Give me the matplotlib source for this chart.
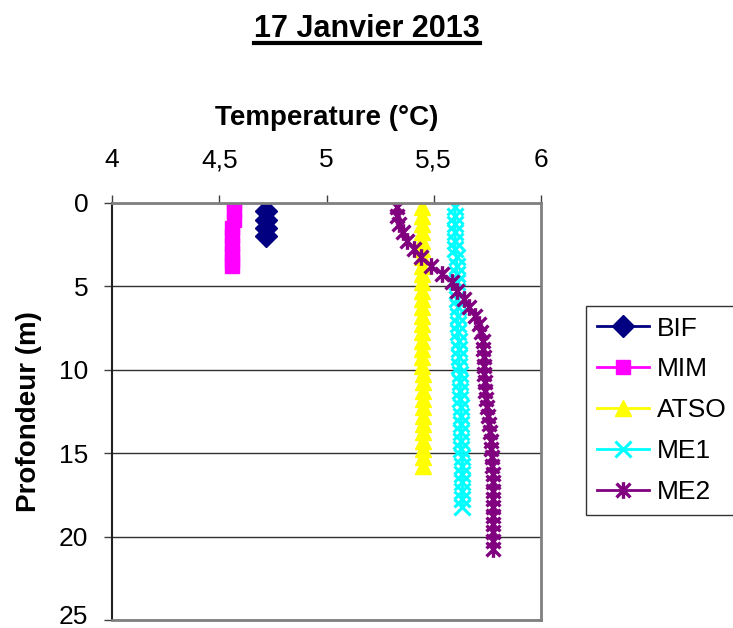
import numpy as np
import matplotlib
matplotlib.use('Agg')
import matplotlib.pyplot as plt
import matplotlib.transforms as mtransforms
from matplotlib.path import Path
from matplotlib.lines import Line2D

plt.rcParams['font.family'] = ['Liberation Sans', 'DejaVu Sans']

# Data (depth in m, temperature in degC)
bif_depth = [0.5, 1.0, 1.5, 2.0]
bif_temp = [4.718, 4.718, 4.718, 4.718]

mim_depth = [0.0, 0.5, 1.0, 1.5, 2.0, 2.5, 3.0, 3.5, 3.8]
mim_temp = [4.569, 4.569, 4.567, 4.558, 4.558, 4.558, 4.558, 4.558, 4.558]

atso_depth = [0.25, 0.75, 1.25, 1.75, 2.25, 2.75, 3.25, 3.75, 4.25, 4.75,
              5.25, 5.75, 6.25, 6.75, 7.25, 7.75, 8.25, 8.75, 9.25, 9.75,
              10.25, 10.75, 11.25, 11.75, 12.25, 12.75, 13.25, 13.75, 14.25, 14.75,
              15.25, 15.75]
atso_temp = [5.443, 5.443, 5.443, 5.443, 5.443, 5.443, 5.443, 5.443, 5.443, 5.443,
             5.447, 5.447, 5.447, 5.447, 5.447, 5.447, 5.447, 5.447, 5.447, 5.447,
             5.451, 5.451, 5.451, 5.451, 5.451, 5.451, 5.451, 5.451, 5.451, 5.451,
             5.451, 5.451]

me1_depth = [0.25, 0.75, 1.25, 1.75, 2.25, 2.75, 3.25, 3.75, 4.25, 4.75,
             5.25, 5.75, 6.25, 6.75, 7.25, 7.75, 8.25, 8.75, 9.25, 9.75,
             10.25, 10.75, 11.25, 11.75, 12.25, 12.75, 13.25, 13.75, 14.25, 14.75,
             15.25, 15.75, 16.25, 16.75, 17.25, 17.75, 18.25]
me1_temp = [5.600, 5.600, 5.600, 5.600, 5.600, 5.600, 5.607, 5.607, 5.607, 5.607,
            5.607, 5.607, 5.612, 5.612, 5.612, 5.612, 5.618, 5.618, 5.618, 5.618,
            5.624, 5.624, 5.624, 5.624, 5.628, 5.628, 5.628, 5.628, 5.628, 5.628,
            5.634, 5.634, 5.634, 5.634, 5.634, 5.634, 5.634]

me2_depth = [0.25, 0.75, 1.25, 1.75, 2.25, 2.75, 3.25, 3.75, 4.25, 4.75,
             5.25, 5.75, 6.25, 6.75, 7.25, 7.75, 8.25, 8.75, 9.25, 9.75,
             10.25, 10.75, 11.25, 11.75, 12.25, 12.75, 13.25, 13.75, 14.25, 14.75,
             15.25, 15.75, 16.25, 16.75, 17.25, 17.75, 18.25, 18.75, 19.25, 19.75,
             20.25, 20.75]
me2_temp = [5.327, 5.330, 5.340, 5.355, 5.375, 5.410, 5.440, 5.485, 5.540, 5.585,
            5.610, 5.640, 5.665, 5.690, 5.710, 5.720, 5.728, 5.730, 5.732, 5.733,
            5.735, 5.738, 5.740, 5.745, 5.748, 5.752, 5.758, 5.762, 5.765, 5.768,
            5.770, 5.772, 5.774, 5.775, 5.776, 5.776, 5.776, 5.776, 5.776, 5.776,
            5.776, 5.776]

x_ticks = [4, 4.5, 5, 5.5, 6]
x_ticklabels = ['4', '4,5', '5', '5,5', '6']
y_ticks = [0, 5, 10, 15, 20, 25]

# asterisk-like marker (x with a vertical bar), like Excel's star
star = Path([(-1, -1), (1, 1), (-1, 1), (1, -1), (0, -1.2), (0, 1.2)],
            [Path.MOVETO, Path.LINETO, Path.MOVETO, Path.LINETO, Path.MOVETO, Path.LINETO])

fig = plt.figure(figsize=(7.33, 6.28), dpi=100)
ax = fig.add_axes([112 / 733, 1 - 620 / 628, 429 / 733, 417 / 628])

ax.plot(bif_temp, bif_depth, color='#000080', marker='D', ms=11, lw=2, label='BIF')
ax.plot(mim_temp, mim_depth, color='#FF00FF', marker='s', ms=10, lw=2, label='MIM')
ax.plot(atso_temp, atso_depth, color='#FFFF00', marker='^', ms=12, lw=2, label='ATSO')
ax.plot(me1_temp, me1_depth, color='#00FFFF', marker='x', ms=11, mew=2.2, lw=2, label='ME1')
ax.plot(me2_temp, me2_depth, color='#800080', marker=star, ms=12, mew=2.4, lw=2, label='ME2')

ax.set_xlim(4, 6)
ax.set_ylim(25, 0)
ax.xaxis.tick_top()
ax.xaxis.set_label_position('top')
ax.set_xticks(x_ticks)
ax.set_xticklabels(x_ticklabels)
ax.set_yticks(y_ticks)
ax.tick_params(axis='x', direction='out', length=6, width=1, pad=16, labelsize=19, color='#404040')
ax.tick_params(axis='y', direction='out', length=6, width=1, pad=11, labelsize=19, color='#404040')

# the bottom label sits a little higher so it stays inside the picture
last = ax.get_yticklabels()[-1]
last.set_transform(last.get_transform() + mtransforms.ScaledTranslation(0, 4 / 72, fig.dpi_scale_trans))

ax.set_xlabel('Temperature (°C)', fontsize=20, fontweight='bold', labelpad=17)
ax.set_ylabel('Profondeur (m)', fontsize=20, fontweight='bold', labelpad=12)

ax.grid(axis='y', color='#303030', lw=1)
ax.set_axisbelow(True)
ax.spines['left'].set_color('#202020')
ax.spines['left'].set_linewidth(1.5)
for s in ['top', 'right', 'bottom']:
    ax.spines[s].set_color('#808080')
    ax.spines[s].set_linewidth(2)

leg = fig.legend(loc='upper left', bbox_to_anchor=(586 / 733, 1 - 306 / 628),
                 fontsize=19, frameon=True, fancybox=False, edgecolor='black',
                 borderaxespad=0, handlelength=2.0, labelspacing=0.64,
                 borderpad=0.4, handletextpad=0.3)
leg.get_frame().set_linewidth(1)

title = fig.text(367 / 733, 1 - 29 / 628, '17 Janvier 2013', ha='center', va='center',
                 fontsize=22, fontweight='bold')
fig.canvas.draw()
bb = title.get_window_extent().transformed(fig.transFigure.inverted())
fig.add_artist(Line2D([bb.x0, bb.x1], [bb.y0 + 0.001, bb.y0 + 0.001], color='black', lw=3))

fig.savefig('out.png', dpi=100)
